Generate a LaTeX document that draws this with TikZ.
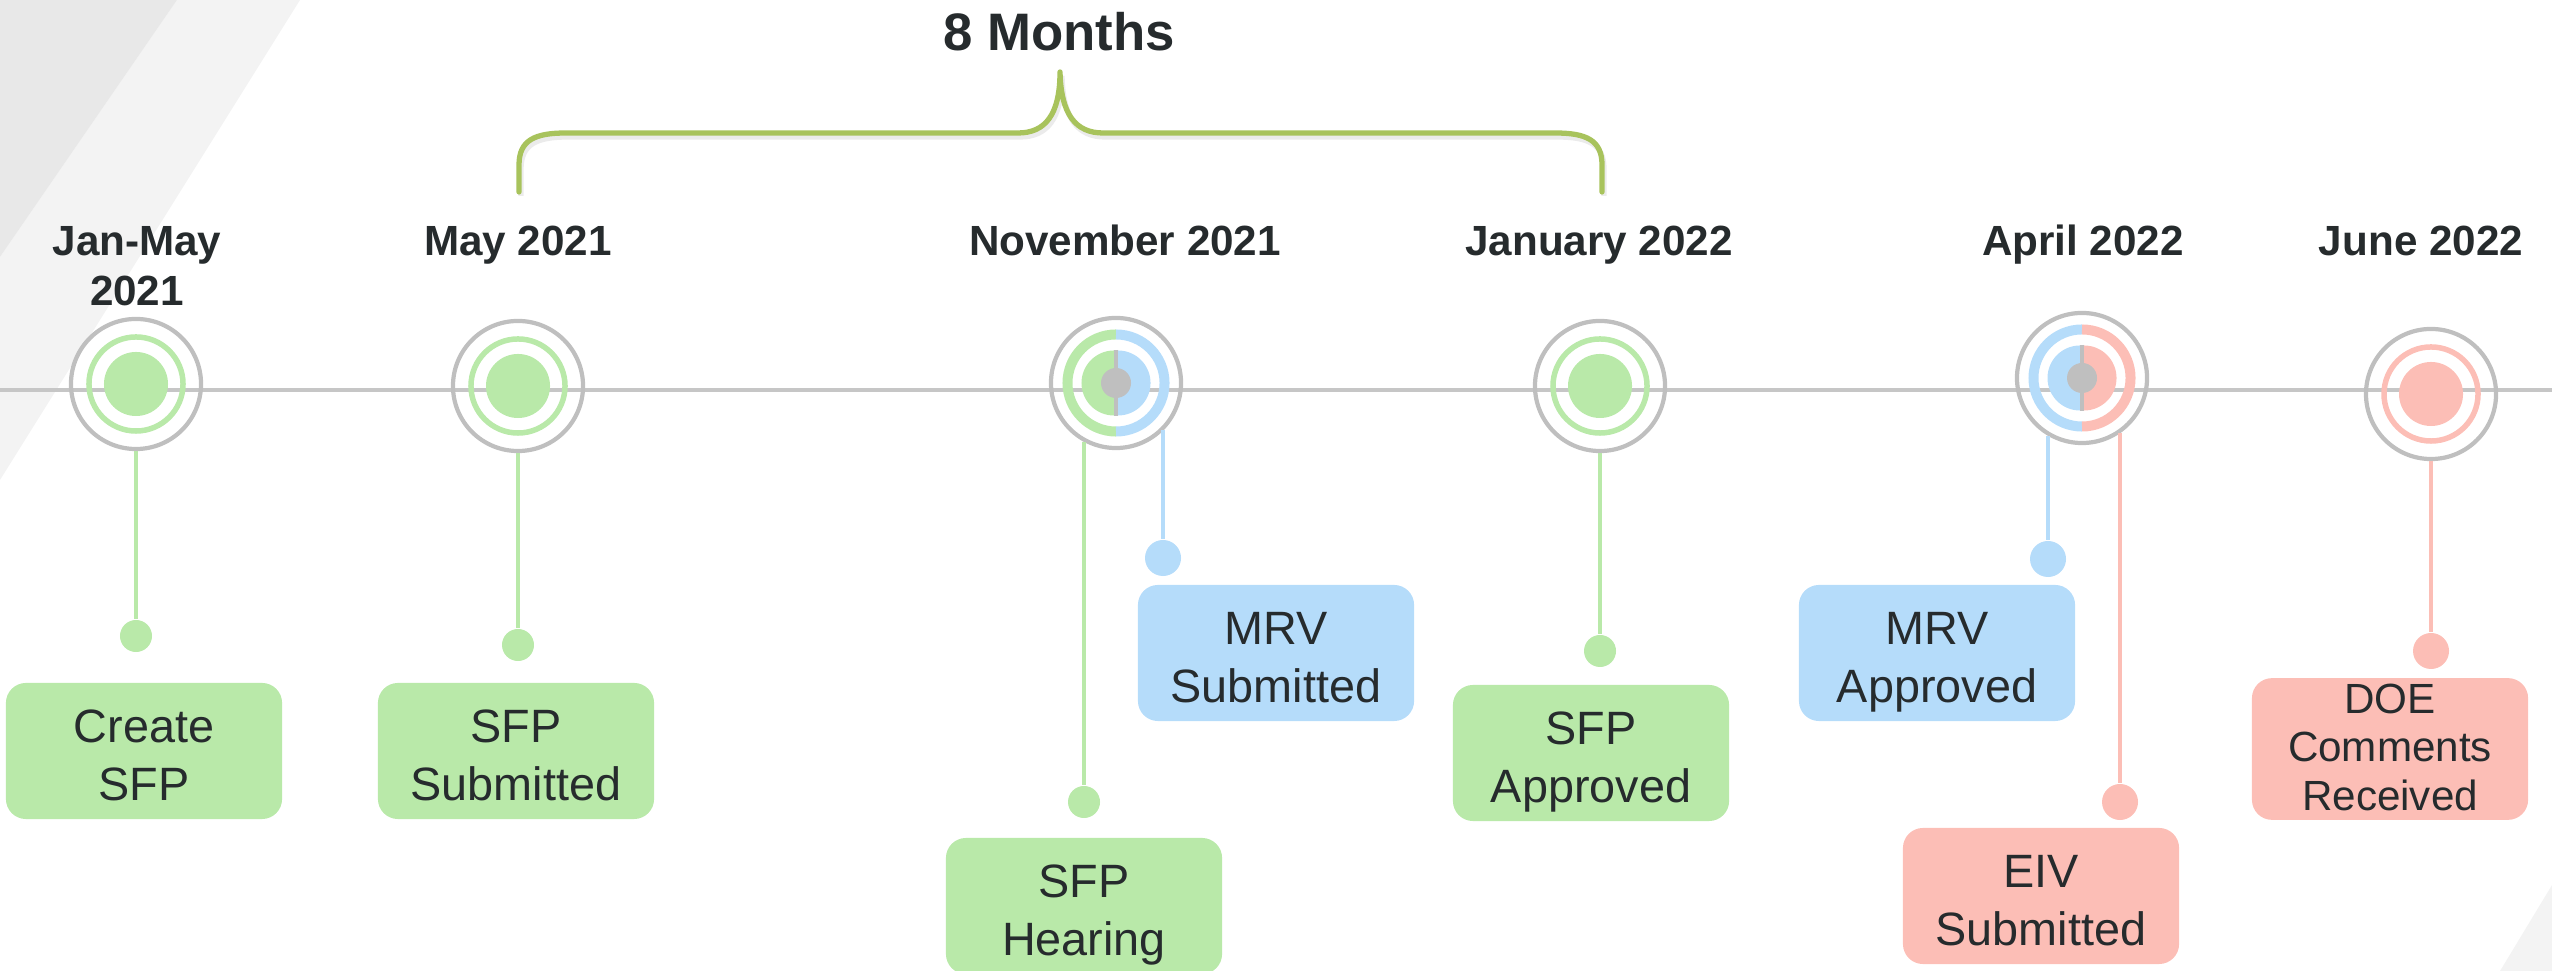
\documentclass[tikz,border=0pt]{standalone}
\usepackage{fontspec}
\setmainfont{Liberation Sans}
\usetikzlibrary{calc}

\definecolor{ringgray}{HTML}{BFBFBF}
\definecolor{axisgray}{HTML}{C6C6C6}
\definecolor{evgreen}{HTML}{B9E9A9}
\definecolor{evblue}{HTML}{B5DCFA}
\definecolor{evpink}{HTML}{FCBEB6}
\definecolor{bracegreen}{HTML}{A8C35C}
\definecolor{inktext}{HTML}{262B2D}
\definecolor{bgdark}{HTML}{E8E8E8}
\definecolor{bglight}{HTML}{F3F3F3}

\tikzset{
  milestone/.style={circle, draw=ringgray, line width=1.2pt, minimum size=1.3cm, inner sep=0pt},
  timeline/.style={axisgray, line width=0.95pt},
  % invisible rules beside the text block (measured from the last baseline) fix its
  % height and depth, so every box centres its lines alike, descenders or not
  boxstruts/.style 2 args={execute at begin node={\rule{0pt}{#1}},
    execute at end node={\rule[-#2]{0pt}{#2}}},
  evbox/.style={rounded corners=0.2cm, minimum width=2.76cm, minimum height=1.36cm,
    align=center, text=inktext, inner sep=0pt, font=\fontsize{13.3}{16.4}\selectfont,
    boxstruts={31pt}{2.8pt}},
  smallbox/.style={font=\fontsize{12}{13.7}\selectfont, boxstruts={37.5pt}{1pt}},
  datelabel/.style={font=\bfseries\fontsize{12}{14.2}\selectfont, text=inktext, align=center, inner sep=0pt},
  pinsmall/.style={circle, inner sep=0pt, minimum size=0.32cm},
  pinlarge/.style={circle, inner sep=0pt, minimum size=0.36cm},
  connector/.style={line width=1.1pt},
  bracestroke/.style={bracegreen, line width=1.5pt, line cap=round, line join=round},
  pics/splitcore/.style 2 args={code={
    \draw[#1, line width=0.1cm] (0,0.485cm) arc[start angle=90, end angle=270, radius=0.485cm];
    \draw[#2, line width=0.1cm] (0,-0.485cm) arc[start angle=-90, end angle=90, radius=0.485cm];
    \fill[#1] (-0.02cm,0.325cm) arc[start angle=90, end angle=270, radius=0.325cm] -- cycle;
    \fill[#2] (0.02cm,-0.325cm) arc[start angle=-90, end angle=90, radius=0.325cm] -- cycle;
    \draw[ringgray, line width=0.04cm] (0,0.33cm) -- (0,-0.33cm);
    \fill[ringgray] (0,0) circle[radius=0.15cm];
  }}
}

\begin{document}
\begin{tikzpicture}[x=0.01cm, y=-0.01cm]
\useasboundingbox (0,0) rectangle (2552,971);

% slanted background bands
\fill[bglight] (177,0) -- (300,0) -- (0,480) -- (0,257) -- cycle;
\fill[bgdark] (0,0) -- (177,0) -- (0,257) -- cycle;
\fill[bglight] (2500,971) -- (2552,885) -- (2552,971) -- cycle;

% time axis
\coordinate (axisL) at (0,390);
\coordinate (axisR) at (2552,390);
\draw[timeline] (axisL) -- (axisR);

% milestones
\node[milestone] (m1) at (136,384) {};
\node[milestone] (m2) at (518,386) {};
\node[milestone] (m3) at (1116,383) {};
\node[milestone] (m4) at (1600,386) {};
\node[milestone] (m5) at (2082,378) {};
\node[milestone] (m6) at (2431,394) {};

\foreach \m/\c in {m1/evgreen, m2/evgreen, m4/evgreen, m6/evpink}{
  \draw[\c, line width=0.055cm] (\m) circle[radius=0.47cm];
  \fill[\c] (\m) circle[radius=0.32cm];
}
\pic at (m3) {splitcore={evgreen}{evblue}};
\pic at (m5) {splitcore={evblue}{evpink}};

% date labels
\node[datelabel] (d1) at (137,266) {Jan-May\\2021};
\node[datelabel, anchor=base] (d2) at (518,256) {May 2021};
\node[datelabel, anchor=base] (d3) at (1125,256) {November 2021};
\node[datelabel, anchor=base] (d4) at (1599,256) {January 2022};
\node[datelabel, anchor=base] (d5) at (2083,256) {April 2022};
\node[datelabel, anchor=base] (d6) at (2421,256) {June 2022};

% span brace
\draw[black, opacity=0.08, line width=1.5pt, shift={(2,4)}]
  (519,192) -- (519,165) .. controls (519,140) and (535,133) .. (566,133) -- (1018,133)
  .. controls (1045,133) and (1060,115) .. (1060,72)
  .. controls (1061,115) and (1076,133) .. (1103,133) -- (1555,133)
  .. controls (1586,133) and (1602,140) .. (1602,165) -- (1602,192);
\draw[bracestroke]
  (519,192) -- (519,165) .. controls (519,140) and (535,133) .. (566,133) -- (1018,133)
  .. controls (1045,133) and (1060,115) .. (1060,72)
  .. controls (1061,115) and (1076,133) .. (1103,133) -- (1555,133)
  .. controls (1586,133) and (1602,140) .. (1602,165) -- (1602,192);
\node[font=\bfseries\fontsize{15}{18}\selectfont, text=inktext, anchor=base, inner sep=0pt] (span) at (1059,51) {8 Months};

% pins
\node[pinsmall, fill=evgreen] (p1) at (136,636) {};
\node[pinsmall, fill=evgreen] (p2) at (518,645) {};
\node[pinsmall, fill=evgreen] (p3) at (1084,802) {};
\node[pinlarge, fill=evblue]  (p4) at (1163,558) {};
\node[pinsmall, fill=evgreen] (p5) at (1600,651) {};
\node[pinlarge, fill=evblue]  (p6) at (2048,559) {};
\node[pinlarge, fill=evpink]  (p7) at (2120,802) {};
\node[pinlarge, fill=evpink]  (p8) at (2431,651) {};

% connectors
\draw[connector, evgreen] (m1.south) -- (p1);
\draw[connector, evgreen] (m2.south) -- (p2);
\draw[connector, evgreen] (m3.-118.7 -| p3) -- (p3);
\draw[connector, evblue]  (m3.-45 -| p4) -- (p4);
\draw[connector, evgreen] (m4.south) -- (p5);
\draw[connector, evblue]  (m5.-120.7 -| p6) -- (p6);
\draw[connector, evpink]  (m5.-55 -| p7) -- (p7);
\draw[connector, evpink]  (m6.south) -- (p8);

% event boxes
\node[evbox, fill=evgreen] (b1) at (144,751) {Create\\SFP};
\node[evbox, fill=evgreen] (b2) at (516,751) {SFP\\Submitted};
\node[evbox, fill=evgreen] (b3) at (1084,906) {SFP\\Hearing};
\node[evbox, fill=evblue]  (b4) at (1276,653) {MRV\\Submitted};
\node[evbox, fill=evgreen] (b5) at (1591,753) {SFP\\Approved};
\node[evbox, fill=evblue]  (b6) at (1937,653) {MRV\\Approved};
\node[evbox, fill=evpink]  (b7) at (2041,896) {EIV\\Submitted};
\node[evbox, smallbox, fill=evpink] (b8) at (2390,749) {DOE\\Comments\\Received};
\end{tikzpicture}
\end{document}
